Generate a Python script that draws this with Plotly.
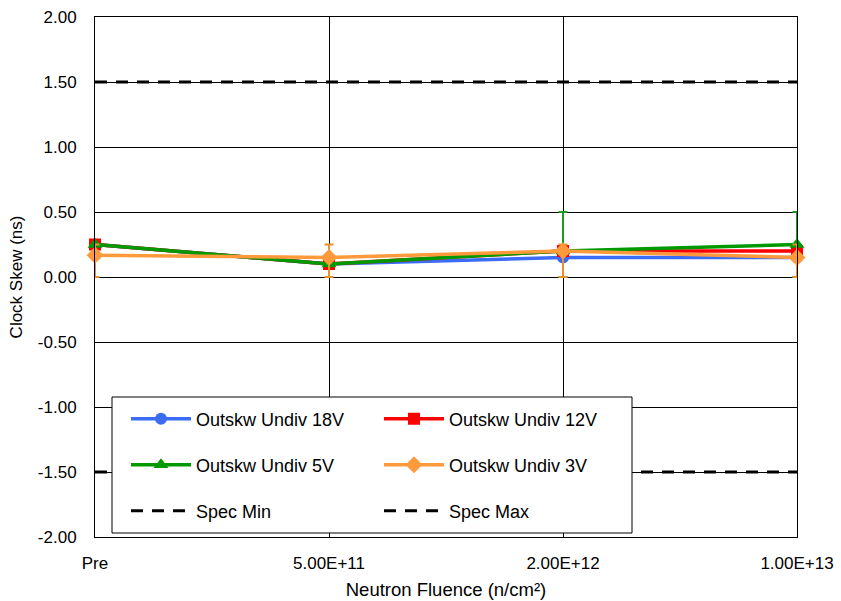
import plotly.graph_objects as go

# Fluence steps (categorical x axis)
fluence = ["Pre", "5.00E+11", "2.00E+12", "1.00E+13"]

# Clock skew (ns) per supply voltage
skew_18v = [0.25, 0.10, 0.15, 0.15]
skew_12v = [0.25, 0.10, 0.20, 0.20]
skew_5v = [0.25, 0.10, 0.20, 0.25]
skew_3v = [0.167, 0.15, 0.20, 0.15]

# Min/max spread shown as error bars
err_5v_plus = [0.0, 0.0, 0.30, 0.25]
err_5v_minus = [0.0, 0.0, 0.20, 0.25]
err_3v_plus = [0.083, 0.10, 0.05, 0.10]
err_3v_minus = [0.167, 0.15, 0.20, 0.15]

# Specification limits (ns)
spec_min = -1.5
spec_max = 1.5

y_tickvals = [-2.0, -1.5, -1.0, -0.5, 0.0, 0.5, 1.0, 1.5, 2.0]
y_ticktext = ["-2.00", "-1.50", "-1.00", "-0.50", "0.00", "0.50", "1.00", "1.50", "2.00"]

FONT = "Liberation Sans, Arial, sans-serif"
xpos = list(range(len(fluence)))

# plot area in pixels
L, R, T, B = 95, 797, 17, 537
PW, PH = R - L, B - T

fig = go.Figure()

# Spec limit lines
fig.add_trace(go.Scatter(
    x=[xpos[0], xpos[-1]], y=[spec_min, spec_min], mode="lines", name="Spec Min",
    line=dict(color="black", width=3, dash="12px,9px"), legend="legend3",
))
fig.add_trace(go.Scatter(
    x=[xpos[0], xpos[-1]], y=[spec_max, spec_max], mode="lines", name="Spec Max",
    line=dict(color="black", width=3, dash="12px,9px"), legend="legend3",
))

fig.add_trace(go.Scatter(
    x=xpos, y=skew_18v, mode="lines+markers", name="Outskw Undiv 18V",
    line=dict(color="#3B6CF5", width=3.5),
    marker=dict(symbol="circle", size=12, color="#3B6CF5"),
    cliponaxis=False, legend="legend",
))
fig.add_trace(go.Scatter(
    x=xpos, y=skew_12v, mode="lines+markers", name="Outskw Undiv 12V",
    line=dict(color="#FF0000", width=3.5),
    marker=dict(symbol="square", size=12, color="#FF0000"),
    cliponaxis=False, legend="legend",
))
fig.add_trace(go.Scatter(
    x=xpos, y=skew_5v, mode="lines+markers", name="Outskw Undiv 5V",
    line=dict(color="#009A00", width=3.5),
    marker=dict(symbol="triangle-up", size=13, color="#009A00"),
    error_y=dict(type="data", symmetric=False, array=err_5v_plus, arrayminus=err_5v_minus,
                 color="#1E9A1E", thickness=2, width=4.5),
    cliponaxis=False, legend="legend2",
))
fig.add_trace(go.Scatter(
    x=xpos, y=skew_3v, mode="lines+markers", name="Outskw Undiv 3V",
    line=dict(color="#FF9A3C", width=3.5),
    marker=dict(symbol="diamond", size=13, color="#FF9A3C"),
    error_y=dict(type="data", symmetric=False, array=err_3v_plus, arrayminus=err_3v_minus,
                 color="#E8922E", thickness=2, width=4.5),
    cliponaxis=False, legend="legend2",
))

# Legend frame
fig.add_shape(type="rect", xref="paper", yref="paper",
              x0=(112 - L) / PW, x1=(632 - L) / PW,
              y0=(B - 533) / PH, y1=(B - 397) / PH,
              line=dict(color="black", width=1), fillcolor="white", layer="above")

legend_common = dict(orientation="h", xanchor="left", yanchor="middle",
                     bgcolor="rgba(0,0,0,0)", borderwidth=0, entrywidth=178,
                     font=dict(family=FONT, size=18, color="black"), itemwidth=60,
                     traceorder="normal")

fig.update_layout(
    width=841, height=601,
    margin=dict(l=L, r=841 - R, t=T, b=601 - B),
    paper_bgcolor="white", plot_bgcolor="white",
    font=dict(family=FONT, size=17, color="black"),
    showlegend=True,
    legend=dict(x=(126 - L) / PW, y=(B - 419) / PH, **legend_common),
    legend2=dict(x=(126 - L) / PW, y=(B - 465) / PH, **legend_common),
    legend3=dict(x=(126 - L) / PW, y=(B - 511) / PH, **legend_common),
    xaxis=dict(
        range=[0, 3], tickvals=xpos, ticktext=fluence, automargin=False,
        showgrid=True, gridcolor="black", gridwidth=1,
        showline=True, linecolor="black", linewidth=1, mirror=True,
        zeroline=False, ticks="", ticklabelstandoff=11,
        title=dict(text="Neutron Fluence (n/cm²)", font=dict(size=18.5), standoff=10),
    ),
    yaxis=dict(
        range=[-2, 2], tickvals=y_tickvals, ticktext=y_ticktext, automargin=False,
        showgrid=True, gridcolor="black", gridwidth=1,
        showline=True, linecolor="black", linewidth=1, mirror=True,
        zeroline=False, ticks="", ticklabelstandoff=14,
        title=dict(text="Clock Skew (ns)", font=dict(size=17), standoff=10),
    ),
)

fig.write_html("out.html")
